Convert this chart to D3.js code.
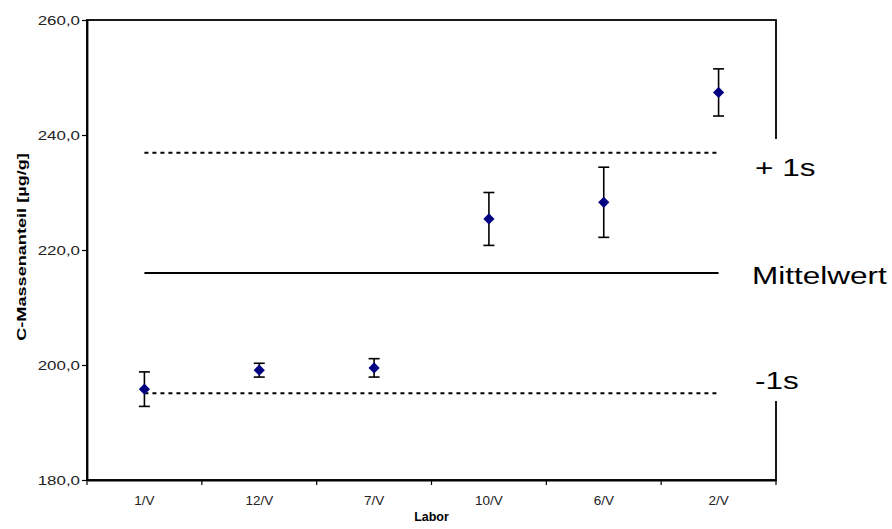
<!DOCTYPE html>
<html>
<head>
<meta charset="utf-8">
<script src="https://cdn.jsdelivr.net/npm/d3@7"></script>
<style>
  html, body { margin: 0; padding: 0; background: #fff; }
  svg { display: block; font-family: Arial, "Liberation Sans", sans-serif; }
</style>
</head>
<body>
<svg id="chart" width="892" height="529"></svg>
<script>
// Laboratories in plotting order
const labs = ["1/V", "12/V", "7/V", "10/V", "6/V", "2/V"];
// Mean C mass fraction per lab [µg/g]
const means = [195.8, 199.1, 199.5, 225.4, 228.3, 247.4];
// Half-width of the error bar per lab [µg/g]
const errors = [3.0, 1.2, 1.6, 4.6, 6.1, 4.1];
// Reference lines: overall mean and ±1 standard deviation
const refNames = ["+ 1s", "Mittelwert", "-1s"];
const refValues = [236.9, 216.0, 195.1];
const yTicks = [180, 200, 220, 240, 260];

const svg = d3.select("#chart");
const m = { left: 87, right: 776, top: 20, bottom: 480 };

const x = d3.scaleBand().domain(labs).range([m.left, m.right]);
const y = d3.scaleLinear().domain([180, 260]).range([m.bottom, m.top]);
const fmt = v => d3.format(".1f")(v).replace(".", ",");

// Widen text along its baseline by factor k
function stretch(sel, k) {
  sel.each(function () {
    const len = this.getComputedTextLength();
    d3.select(this).attr("textLength", len * k).attr("lengthAdjust", "spacingAndGlyphs");
  });
}

// Plot frame
svg.append("rect")
  .attr("x", m.left).attr("y", m.top)
  .attr("width", m.right - m.left).attr("height", m.bottom - m.top)
  .attr("fill", "none").attr("stroke", "#000").attr("stroke-width", 1.8);

// Y axis
const yAxis = svg.append("g")
  .attr("transform", `translate(${m.left},0)`)
  .call(d3.axisLeft(y).tickValues(yTicks).tickFormat(fmt).tickSize(5).tickSizeOuter(0));
yAxis.select(".domain").attr("stroke-width", 1.8);
yAxis.selectAll(".tick line").attr("stroke-width", 1.2);
yAxis.selectAll(".tick text")
  .attr("font-size", 13).attr("fill", "#222").attr("x", -7)
  .call(stretch, 1.3);

// X axis with ticks on band boundaries
const xAxis = svg.append("g")
  .attr("transform", `translate(0,${m.bottom})`)
  .call(d3.axisBottom(x).tickSize(0).tickSizeOuter(0));
xAxis.select(".domain").attr("stroke-width", 1.8);
xAxis.selectAll(".tick text")
  .attr("font-size", 12.5).attr("fill", "#222").attr("y", 25).attr("dy", 0)
  .call(stretch, 1.08);
const bounds = labs.map(d => x(d)).concat([m.right]);
xAxis.selectAll(".bound").data(bounds).join("line")
  .attr("class", "bound")
  .attr("x1", d => d).attr("x2", d => d)
  .attr("y1", 0).attr("y2", 5)
  .attr("stroke", "#000").attr("stroke-width", 1.2);

// Axis titles
svg.append("text")
  .attr("x", (m.left + m.right) / 2).attr("y", 521)
  .attr("text-anchor", "middle").attr("font-size", 12.5).attr("font-weight", "bold")
  .text("Labor");
svg.append("text")
  .attr("transform", `translate(26,${(m.top + m.bottom) / 2 - 3}) rotate(-90)`)
  .attr("text-anchor", "middle").attr("font-size", 12.5).attr("font-weight", "bold")
  .text("C-Massenanteil  [µg/g]")
  .call(stretch, 1.45);

// Reference lines span from the first to the last lab
const x0 = x(labs[0]) + x.bandwidth() / 2;
const x1 = x(labs[labs.length - 1]) + x.bandwidth() / 2;
svg.selectAll(".ref").data(refValues).join("line")
  .attr("class", "ref")
  .attr("x1", x0).attr("x2", x1)
  .attr("y1", d => y(d)).attr("y2", d => y(d))
  .attr("stroke", "#000").attr("stroke-width", 2)
  .attr("stroke-dasharray", (d, i) => i === 1 ? null : "4,4");

// Label panel to the right covers part of the frame
svg.append("rect")
  .attr("x", 740).attr("y", 139).attr("width", 152).attr("height", 262)
  .attr("fill", "#fff");
const labelShift = [23, 11, -4];
svg.selectAll(".refLabel").data(refValues).join("text")
  .attr("class", "refLabel")
  .attr("x", (d, i) => i === 1 ? 752 : 755)
  .attr("y", (d, i) => y(d) + labelShift[i])
  .attr("font-size", 23.5).attr("fill", "#000")
  .text((d, i) => refNames[i])
  .call(stretch, 1.34);

// Error bars
const cap = 5.5;
const eb = svg.append("g");
labs.forEach((lab, i) => {
  const cx = x(lab) + x.bandwidth() / 2;
  const g = eb.append("g").attr("stroke", "#000").attr("stroke-width", 1.6);
  g.append("line").attr("x1", cx).attr("x2", cx)
    .attr("y1", y(means[i] + errors[i])).attr("y2", y(means[i] - errors[i]));
  g.append("line").attr("x1", cx - cap).attr("x2", cx + cap)
    .attr("y1", y(means[i] + errors[i])).attr("y2", y(means[i] + errors[i]));
  g.append("line").attr("x1", cx - cap).attr("x2", cx + cap)
    .attr("y1", y(means[i] - errors[i])).attr("y2", y(means[i] - errors[i]));
});

// Diamond markers
const diamond = d3.symbol().type(d3.symbolDiamond2).size(80);
svg.selectAll(".pt").data(means).join("path")
  .attr("class", "pt")
  .attr("transform", (d, i) => `translate(${x(labs[i]) + x.bandwidth() / 2},${y(d)})`)
  .attr("d", diamond)
  .attr("fill", "#000080");
</script>
</body>
</html>
